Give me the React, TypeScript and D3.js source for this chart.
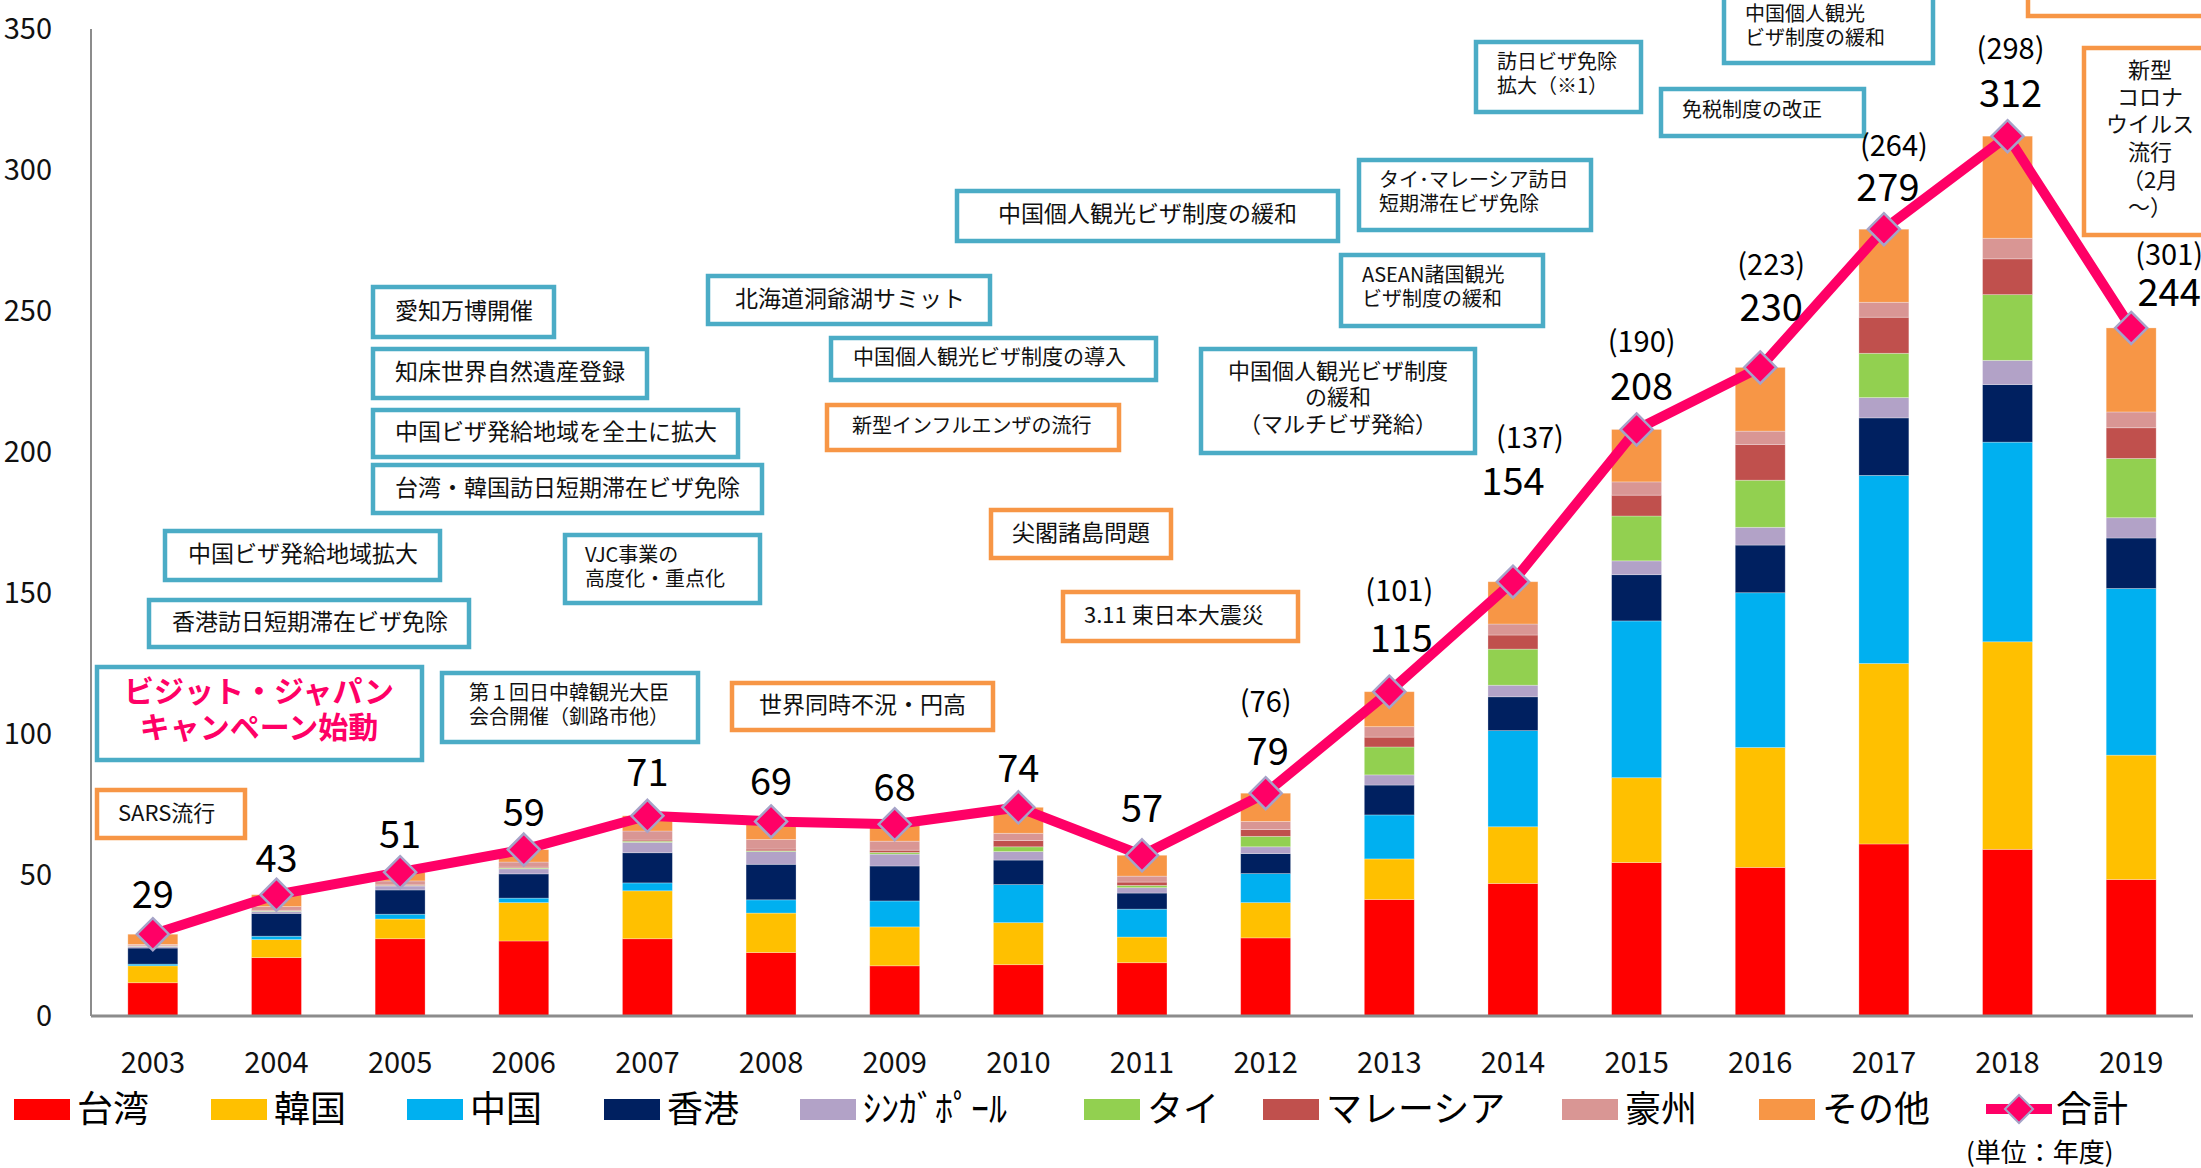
import React from 'react';
import * as d3 from 'd3';

// ---------- data ----------
const years = ['2003','2004','2005','2006','2007','2008','2009','2010','2011','2012','2013','2014','2015','2016','2017','2018','2019'];
const seriesNames = ['台湾','韓国','中国','香港','ｼﾝｶﾞﾎﾟｰﾙ','タイ','マレーシア','豪州','その他'];
const taiwan    = [11.8, 20.7, 27.4, 26.6, 27.4, 22.5, 17.8, 18.2, 18.9, 27.7, 41.3, 47.0, 54.4, 52.7, 61.0, 59.1, 48.4];
const korea     = [6.0, 6.4, 7.0, 13.6, 17.0, 14.0, 13.8, 14.9, 9.1, 12.5, 14.4, 20.1, 30.1, 42.5, 64.0, 73.6, 44.1];
const china     = [0.6, 1.2, 1.7, 1.6, 2.8, 4.7, 9.2, 13.5, 9.9, 10.3, 15.6, 34.1, 55.6, 54.9, 66.7, 70.8, 59.1];
const hongkong  = [5.7, 8.1, 8.6, 8.6, 10.7, 12.6, 12.4, 8.7, 5.7, 7.1, 10.6, 12.0, 16.4, 16.9, 20.4, 20.4, 17.9];
const singapore = [0.6, 0.7, 1.4, 1.8, 3.7, 4.5, 4.2, 3.0, 1.9, 2.4, 3.6, 4.1, 4.9, 6.3, 7.2, 8.6, 7.2];
const thailand  = [0.1, 0.2, 0.2, 0.3, 0.4, 0.3, 0.6, 1.7, 0.8, 3.7, 9.9, 12.8, 15.9, 16.7, 15.7, 23.3, 21.0];
const malaysia  = [0.1, 0.2, 0.2, 0.3, 0.4, 0.6, 0.8, 2.2, 1.2, 2.4, 3.5, 5.0, 7.4, 12.7, 12.8, 12.7, 10.9];
const australia = [0.5, 1.3, 1.4, 1.8, 3.2, 3.4, 3.2, 2.6, 2.1, 2.9, 3.7, 3.9, 4.7, 4.7, 5.3, 7.3, 5.6];
const others    = [3.6, 4.2, 3.1, 4.4, 5.4, 6.4, 6.0, 9.2, 7.4, 10.0, 12.4, 15.0, 18.6, 22.6, 25.9, 36.2, 29.8];
const totals    = [29, 43, 51, 59, 71, 69, 68, 74, 57, 79, 115, 154, 208, 230, 279, 312, 244];
const prevLabels = ['', '', '', '', '', '', '', '', '', '(76)', '(101)', '(137)', '(190)', '(223)', '(264)', '(298)', '(301)'];
const yTicks = [0, 50, 100, 150, 200, 250, 300, 350];
const totalName = '合計';
const unitNote = '(単位：年度)';

// ---------- styles / layout ----------
const seriesColors = ['#FF0000', '#FFC000', '#00B0F0', '#002060', '#B2A2C7', '#92D050', '#C0504D', '#D99694', '#F79646'];
const lineColor = '#FF0066';
const W = 2201, H = 1168;
const X0 = 91, X1 = 2193, Y0 = 1016, Y1 = 29;
const FONT = '"Noto Sans CJK JP", "Noto Sans", sans-serif';
const TS = -3; // text vertical nudge

const totalDx = [0, 0, 0, 0, 0, 0, 0, 0, 0, 2, 12, 0, 5, 11, 4, 3, 38];
const totalDy = [-40, -36, -38, -37, -43, -40, -37, -39, -47, -42, -53, -100, -43, -60, -42, -43, -35];
const prevDx = [0, 0, 0, 0, 0, 0, 0, 0, 0, 0, 10, 17, 5, 11, 10, 3, 38];
const prevDy = [0, 0, 0, 0, 0, 0, 0, 0, 0, -91, -101, -144, -87, -102, -83, -87, -73];

const legendX = [14, 211, 407, 604, 800, 1084, 1263, 1562, 1759];
const legendTotalX = 1986;
const legendY = 1109;

const BLUE = '#4BACC6';
const ORANGE = '#F79646';

type Ann = { x: number; y: number; w: number; h: number; stroke: string; lines: string[]; fs: number; anchor: 'start' | 'middle'; tx: number; ty: number[]; bold?: boolean; color?: string };

const annotations: Ann[] = [
  { x: 373, y: 287, w: 181, h: 50, stroke: BLUE, lines: ['愛知万博開催'], fs: 23, anchor: 'start', tx: 395, ty: [312] },
  { x: 373, y: 349, w: 274, h: 49, stroke: BLUE, lines: ['知床世界自然遺産登録'], fs: 23, anchor: 'start', tx: 395, ty: [373] },
  { x: 373, y: 410, w: 365, h: 47, stroke: BLUE, lines: ['中国ビザ発給地域を全土に拡大'], fs: 23, anchor: 'start', tx: 395, ty: [433] },
  { x: 373, y: 465, w: 389, h: 48, stroke: BLUE, lines: ['台湾・韓国訪日短期滞在ビザ免除'], fs: 23, anchor: 'start', tx: 395, ty: [489] },
  { x: 165, y: 531, w: 275, h: 49, stroke: BLUE, lines: ['中国ビザ発給地域拡大'], fs: 23, anchor: 'start', tx: 188, ty: [555] },
  { x: 149, y: 600, w: 320, h: 47, stroke: BLUE, lines: ['香港訪日短期滞在ビザ免除'], fs: 23, anchor: 'start', tx: 172, ty: [623] },
  { x: 97, y: 667, w: 325, h: 93, stroke: BLUE, lines: ['ビジット・ジャパン', 'キャンペーン始動'], fs: 30, anchor: 'middle', tx: 259, ty: [692, 728], bold: true, color: '#FF0066' },
  { x: 442, y: 673, w: 256, h: 69, stroke: BLUE, lines: ['第１回日中韓観光大臣', '会合開催（釧路市他）'], fs: 20, anchor: 'start', tx: 469, ty: [694, 718] },
  { x: 565, y: 535, w: 195, h: 68, stroke: BLUE, lines: ['VJC事業の', '高度化・重点化'], fs: 20, anchor: 'start', tx: 585, ty: [556, 580] },
  { x: 708, y: 276, w: 282, h: 48, stroke: BLUE, lines: ['北海道洞爺湖サミット'], fs: 23, anchor: 'start', tx: 735, ty: [300] },
  { x: 831, y: 338, w: 325, h: 42, stroke: BLUE, lines: ['中国個人観光ビザ制度の導入'], fs: 21, anchor: 'start', tx: 853, ty: [358] },
  { x: 957, y: 191, w: 381, h: 50, stroke: BLUE, lines: ['中国個人観光ビザ制度の緩和'], fs: 23, anchor: 'start', tx: 998, ty: [215] },
  { x: 1359, y: 160, w: 232, h: 70, stroke: BLUE, lines: ['タイ･マレーシア訪日', '短期滞在ビザ免除'], fs: 20, anchor: 'start', tx: 1379, ty: [181, 205] },
  { x: 1341, y: 255, w: 202, h: 71, stroke: BLUE, lines: ['ASEAN諸国観光', 'ビザ制度の緩和'], fs: 20, anchor: 'start', tx: 1362, ty: [276, 300] },
  { x: 1201, y: 349, w: 274, h: 104, stroke: BLUE, lines: ['中国個人観光ビザ制度', 'の緩和', '（マルチビザ発給）'], fs: 22, anchor: 'middle', tx: 1338, ty: [372, 398, 425] },
  { x: 1476, y: 42, w: 165, h: 70, stroke: BLUE, lines: ['訪日ビザ免除', '拡大（※1）'], fs: 20, anchor: 'start', tx: 1497, ty: [63, 87] },
  { x: 1661, y: 89, w: 203, h: 47, stroke: BLUE, lines: ['免税制度の改正'], fs: 20, anchor: 'start', tx: 1682, ty: [111] },
  { x: 1724, y: -20, w: 209, h: 83, stroke: BLUE, lines: ['中国個人観光', 'ビザ制度の緩和'], fs: 20, anchor: 'start', tx: 1745, ty: [15, 39] },
  { x: 97, y: 790, w: 148, h: 48, stroke: ORANGE, lines: ['SARS流行'], fs: 22, anchor: 'start', tx: 118, ty: [814] },
  { x: 827, y: 405, w: 292, h: 45, stroke: ORANGE, lines: ['新型インフルエンザの流行'], fs: 20, anchor: 'start', tx: 852, ty: [427] },
  { x: 991, y: 510, w: 180, h: 48, stroke: ORANGE, lines: ['尖閣諸島問題'], fs: 23, anchor: 'start', tx: 1012, ty: [534] },
  { x: 1063, y: 592, w: 235, h: 49, stroke: ORANGE, lines: ['3.11 東日本大震災'], fs: 22, anchor: 'start', tx: 1084, ty: [616] },
  { x: 732, y: 683, w: 261, h: 47, stroke: ORANGE, lines: ['世界同時不況・円高'], fs: 23, anchor: 'start', tx: 759, ty: [706] },
  { x: 2084, y: 48, w: 140, h: 187, stroke: ORANGE, lines: ['新型', 'コロナ', 'ウイルス', '流行', '（2月', '～）'], fs: 22, anchor: 'middle', tx: 2150, ty: [71, 98, 125, 153, 181, 208] },
  { x: 2028, y: -30, w: 185, h: 46, stroke: ORANGE, lines: [], fs: 20, anchor: 'start', tx: 0, ty: [] },
];

const seriesValues = [taiwan, korea, china, hongkong, singapore, thailand, malaysia, australia, others];

export default function App() {
  const x = d3.scaleBand<string>().domain(years).range([X0, X1]).paddingInner(0.596).paddingOuter(0.298);
  const y = d3.scaleLinear().domain([0, 350]).range([Y0, Y1]);

  const table = years.map((yr, i) => {
    const row: Record<string, number | string> = { year: yr };
    seriesNames.forEach((n, k) => { row[n] = seriesValues[k][i]; });
    return row;
  });
  const stack = d3.stack<Record<string, number | string>>().keys(seriesNames).value((d, k) => d[k] as number);
  const layers = stack(table);

  const cx = (i: number) => (x(years[i]) as number) + x.bandwidth() / 2;
  const line = d3.line<number>().x((_, i) => cx(i)).y(d => y(d));

  const diamond = (px: number, py: number, r: number) => `M${px},${py - r}L${px + r},${py}L${px},${py + r}L${px - r},${py}Z`;

  return (
    <svg width={W} height={H} viewBox={`0 0 ${W} ${H}`} style={{ position: 'absolute', left: 0, top: 0, display: 'block', background: '#fff' }} fontFamily={FONT}>
      <rect x={0} y={0} width={W} height={H} fill="#fff" />
      {/* bars */}
      {layers.map((layer, k) => (
        <g key={seriesNames[k]} fill={seriesColors[k]}>
          {layer.map((d, i) => (
            <rect key={i} x={x(years[i])} y={y(d[1])} width={x.bandwidth()} height={Math.max(0, y(d[0]) - y(d[1]))}
              stroke="#ffffff" strokeOpacity={0.35} strokeWidth={0.8} />
          ))}
        </g>
      ))}
      {/* axes */}
      <line x1={X0} x2={X0} y1={Y1} y2={Y0} stroke="#8c8c8c" strokeWidth={2} />
      <line x1={X0} x2={X1} y1={Y0} y2={Y0} stroke="#8c8c8c" strokeWidth={3} />
      {yTicks.map(t => (
        <text key={t} x={52} y={y(t) + TS} textAnchor="end" dominantBaseline="central" fontSize={29} fill="#111">{t}</text>
      ))}
      {years.map(yr => (
        <text key={yr} x={(x(yr) as number) + x.bandwidth() / 2} y={1060} textAnchor="middle" dominantBaseline="central" fontSize={29} fill="#111">{yr}</text>
      ))}
      {/* annotation boxes */}
      {annotations.map((a, i) => (
        <g key={i}>
          <rect x={a.x} y={a.y} width={a.w} height={a.h} fill="#fff" stroke={a.stroke} strokeWidth={4.5} />
          {a.lines.map((ln, j) => (
            <text key={j} x={a.tx} y={a.ty[j] + TS} textAnchor={a.anchor} dominantBaseline="central" fontSize={a.fs}
              fontWeight={a.bold ? 700 : 400} fill={a.color || '#111'}>{ln}</text>
          ))}
        </g>
      ))}
      {/* total line */}
      <path d={line(totals) || ''} fill="none" stroke={lineColor} strokeWidth={10} strokeLinejoin="round" />
      {totals.map((t, i) => (
        <path key={i} d={diamond(cx(i), y(t), 16)} fill={lineColor} stroke="#A6A3C8" strokeWidth={2.5} />
      ))}
      {/* labels */}
      {totals.map((t, i) => (
        <text key={'t' + i} x={cx(i) + totalDx[i]} y={y(t) + totalDy[i] + TS} textAnchor="middle" dominantBaseline="central" fontSize={38} fill="#000">{t}</text>
      ))}
      {prevLabels.map((p, i) => p ? (
        <text key={'p' + i} x={cx(i) + prevDx[i]} y={y(totals[i]) + prevDy[i] + TS} textAnchor="middle" dominantBaseline="central" fontSize={29} fill="#000">{p}</text>
      ) : null)}
      {/* legend */}
      {seriesNames.map((n, k) => (
        <g key={n}>
          <rect x={legendX[k]} y={legendY - 10} width={56} height={21} fill={seriesColors[k]} />
          <text x={legendX[k] + 63} y={legendY + TS} dominantBaseline="central" fontSize={36} fill="#000">{n}</text>
        </g>
      ))}
      <g>
        <line x1={legendTotalX} x2={legendTotalX + 66} y1={legendY} y2={legendY} stroke={lineColor} strokeWidth={10} />
        <path d={diamond(legendTotalX + 33, legendY, 14)} fill={lineColor} stroke="#A6A3C8" strokeWidth={2} />
        <text x={legendTotalX + 70} y={legendY + TS} dominantBaseline="central" fontSize={36} fill="#000">{totalName}</text>
      </g>
      <text x={1966} y={1150} dominantBaseline="central" fontSize={26} fill="#000">{unitNote}</text>
    </svg>
  );
}
